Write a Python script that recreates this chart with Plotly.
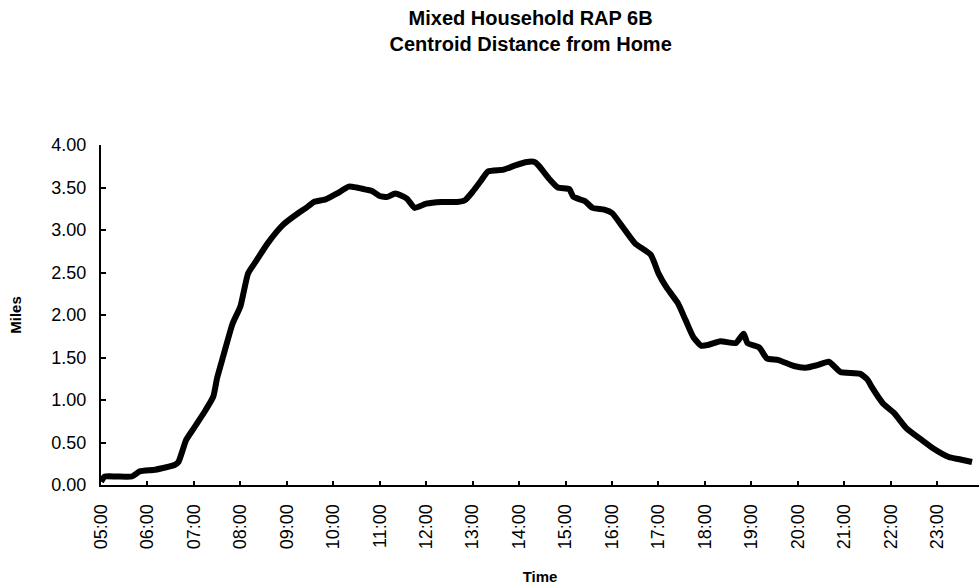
import plotly.graph_objects as go

# Data (time of day, miles)
times = ["05:00", "05:05", "05:20", "05:40", "05:50", "06:10", "06:35", "06:40", "06:50",
         "07:00", "07:15", "07:25", "07:30", "07:38", "07:50", "08:00", "08:10", "08:20",
         "08:35", "08:55", "09:15", "09:25", "09:35", "09:50", "10:05", "10:20", "10:30",
         "10:45", "10:50", "11:00", "11:10", "11:20", "11:35", "11:45", "12:00", "12:20",
         "12:40", "12:50", "13:00", "13:10", "13:20", "13:40", "13:55", "14:10", "14:20",
         "14:25", "14:40", "14:50", "15:05", "15:10", "15:25", "15:35", "15:50", "16:00",
         "16:15", "16:30", "16:50", "17:00", "17:10", "17:25", "17:35", "17:45", "17:55",
         "18:05", "18:20", "18:40", "18:50", "18:55", "19:10", "19:20", "19:35", "19:55",
         "20:10", "20:25", "20:40", "20:55", "21:20", "21:30", "21:35", "21:50", "22:05",
         "22:20", "22:40", "22:55", "23:15", "23:30", "23:45"]
miles = [0.04, 0.10, 0.10, 0.10, 0.16, 0.18, 0.235, 0.27, 0.53,
         0.67, 0.88, 1.04, 1.26, 1.52, 1.90, 2.10, 2.49, 2.63,
         2.84, 3.06, 3.20, 3.26, 3.33, 3.36, 3.43, 3.51, 3.50,
         3.47, 3.46, 3.40, 3.39, 3.43, 3.37, 3.26, 3.31, 3.33,
         3.33, 3.35, 3.45, 3.57, 3.69, 3.71, 3.76, 3.80, 3.80,
         3.76, 3.59, 3.50, 3.48, 3.39, 3.34, 3.26, 3.24, 3.20,
         3.02, 2.84, 2.71, 2.49, 2.33, 2.14, 1.94, 1.74, 1.64,
         1.65, 1.69, 1.67, 1.78, 1.67, 1.62, 1.49, 1.47, 1.40,
         1.38, 1.41, 1.45, 1.33, 1.31, 1.24, 1.16, 0.96, 0.84,
         0.67, 0.53, 0.43, 0.33, 0.30, 0.27]

tick_hours = list(range(5, 24))
tick_labels = [f"{h:02d}:00" for h in tick_hours]
y_ticks = [0, 0.5, 1.0, 1.5, 2.0, 2.5, 3.0, 3.5, 4.0]
y_labels = [f"{v:.2f}" for v in y_ticks]


def to_hours(t):
    h, m = t.split(":")
    return int(h) + int(m) / 60.0


x_hours = [to_hours(t) for t in times]

FONT = "Liberation Sans, Arial, sans-serif"

fig = go.Figure()
fig.add_trace(go.Scatter(
    x=x_hours, y=miles, mode="lines",
    line=dict(color="black", width=6, shape="spline", smoothing=0.5),
    showlegend=False, hoverinfo="skip",
))

fig.update_layout(
    width=979, height=588,
    margin=dict(l=101, r=0, t=145, b=103),
    paper_bgcolor="white", plot_bgcolor="white",
    font=dict(family=FONT, color="black"),
    title=dict(
        text="<b>Mixed Household RAP 6B<br>Centroid Distance from Home</b>",
        x=0.542, xanchor="center", yref="container", y=1 - 25 / 588, yanchor="middle",
        font=dict(size=20, family=FONT, color="black"),
    ),
)

fig.update_xaxes(
    range=[5, 23.9], tickmode="array", tickvals=tick_hours, ticktext=tick_labels,
    tickangle=-90, tickfont=dict(size=18, family=FONT),
    showgrid=False, zeroline=False, automargin=False,
    showline=True, linecolor="black", linewidth=2,
    ticks="inside", ticklen=4, tickwidth=1.5, tickcolor="black",
    ticklabelstandoff=10,
    title=dict(text="<b>Time</b>", font=dict(size=15, family=FONT), standoff=23),
)
fig.update_yaxes(
    range=[0, 4], tickmode="array", tickvals=y_ticks, ticktext=y_labels,
    tickfont=dict(size=18, family=FONT),
    showgrid=False, zeroline=False, automargin=False,
    showline=True, linecolor="black", linewidth=2,
    ticks="inside", ticklen=5, tickwidth=1.5, tickcolor="black",
    ticklabelstandoff=9,
    title=dict(text="<b>Miles</b>", font=dict(size=15, family=FONT), standoff=26),
)

fig.write_html("out.html", config={"displayModeBar": False},
               post_script="document.body.style.margin='0';")
